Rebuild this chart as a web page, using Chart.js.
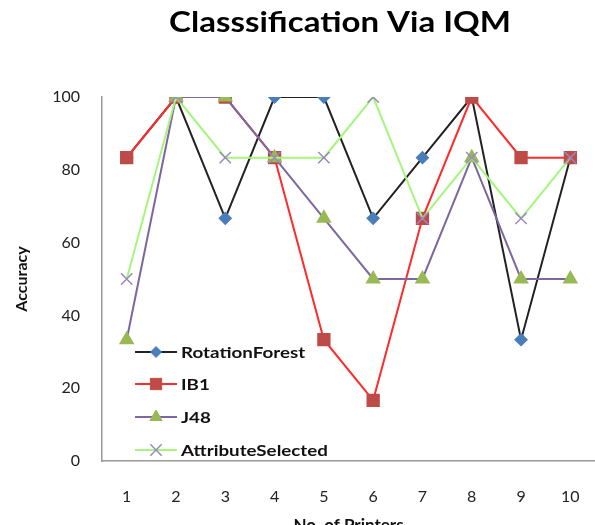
<!DOCTYPE html>
<html lang="en">
<head>
    <meta charset="UTF-8">
    <title>Classsification Via IQM</title>
    <script src="https://cdn.jsdelivr.net/npm/chart.js"></script>
    <style>
        html, body { margin: 0; padding: 0; background: #fff; overflow: hidden; }
        .chart-wrapper { width: 660px; height: 545px; }
    </style>
</head>
<body>
    <div class="chart-wrapper">
        <canvas id="chart" width="660" height="545"></canvas>
    </div>

    <script>
        // values
        const printers = ["1", "2", "3", "4", "5", "6", "7", "8", "9", "10"];
        const rotationForest = [83.33, 100, 66.67, 100, 100, 66.67, 83.33, 100, 33.33, 83.33];
        const ib1 = [83.33, 100, 100, 83.33, 33.33, 16.67, 66.67, 100, 83.33, 83.33];
        const j48 = [33.33, 100, 100, 83.33, 66.67, 50, 50, 83.33, 50, 50];
        const attributeSelected = [50, 100, 83.33, 83.33, 83.33, 100, 66.67, 83.33, 66.67, 83.33];
        const yTicks = [0, 20, 40, 60, 80, 100];

        const seriesNames = ["RotationForest", "IB1", "J48", "AttributeSelected"];
        const chartTitle = "Classsification Via IQM";

        const fontFamily = "Lato, 'Open Sans', sans-serif";

        // the source picture is a bit stretched sideways, so the drawn texts are too
        function stretchedText(ctx, text, x, y, sx, align) {
            ctx.save();
            ctx.translate(x, y);
            ctx.scale(sx, 1);
            ctx.textAlign = align;
            ctx.fillText(text, 0, 0);
            ctx.restore();
        }

        // title + legend inside the plot, lower left, like the excel one
        const excelBits = {
            id: 'excelBits',
            afterDraw(chart) {
                const ctx = chart.ctx;
                const area = chart.chartArea;

                ctx.save();
                ctx.fillStyle = '#000';
                ctx.font = "bold 28px " + fontFamily;
                ctx.textBaseline = 'middle';
                stretchedText(ctx, chartTitle, 340, 23, 1.18, 'center');
                ctx.restore();

                const x0 = area.left + 33;
                const rowsY = [352, 384, 417, 450];
                seriesNames.forEach((name, i) => {
                    const ds = chart.data.datasets.find(d => d.label === name);
                    const y = rowsY[i];
                    ctx.save();
                    ctx.strokeStyle = ds.borderColor;
                    ctx.lineWidth = ds.borderWidth;
                    ctx.beginPath();
                    ctx.moveTo(x0, y);
                    ctx.lineTo(x0 + 42, y);
                    ctx.stroke();
                    ctx.fillStyle = ds.pointBackgroundColor;
                    ctx.strokeStyle = ds.pointBorderColor;
                    ctx.lineWidth = ds.pointBorderWidth || 1;
                    Chart.helpers.drawPoint(ctx, {
                        pointStyle: ds.pointStyle,
                        radius: ds.pointRadius,
                        borderWidth: ds.pointBorderWidth || 1
                    }, x0 + 21, y);
                    ctx.restore();

                    ctx.save();
                    ctx.fillStyle = '#111';
                    ctx.font = "bold 15px " + fontFamily;
                    ctx.textBaseline = 'middle';
                    stretchedText(ctx, name, x0 + 46, y + 1, 1.25, 'left');
                    ctx.restore();
                });
            }
        };

        new Chart(document.getElementById('chart'), {
            type: 'line',
            data: {
                labels: printers,
                datasets: [
                    {
                        label: 'RotationForest',
                        data: rotationForest,
                        borderColor: '#222222',
                        borderWidth: 2,
                        pointStyle: 'rectRot',
                        pointRadius: 5.5,
                        pointBackgroundColor: '#4a7ebb',
                        pointBorderColor: '#4a7ebb',
                        order: 3
                    },
                    {
                        label: 'IB1',
                        data: ib1,
                        borderColor: '#ff2a2a',
                        borderWidth: 2,
                        pointStyle: 'rect',
                        pointRadius: 8,
                        pointBackgroundColor: '#be4b48',
                        pointBorderColor: '#be4b48',
                        order: 2
                    },
                    {
                        label: 'J48',
                        data: j48,
                        borderColor: '#7d67a0',
                        borderWidth: 2,
                        pointStyle: 'triangle',
                        pointRadius: 7,
                        pointBackgroundColor: '#98b954',
                        pointBorderColor: '#98b954',
                        order: 1
                    },
                    {
                        label: 'AttributeSelected',
                        data: attributeSelected,
                        borderColor: '#a6f57c',
                        borderWidth: 2,
                        pointStyle: 'crossRot',
                        pointRadius: 8,
                        pointBackgroundColor: '#9a86c0',
                        pointBorderColor: '#9a86c0',
                        pointBorderWidth: 1.5,
                        order: 0
                    }
                ]
            },
            options: {
                responsive: false,
                animation: false,
                devicePixelRatio: 1,
                layout: {
                    padding: { left: 12, right: 65, top: 97, bottom: 4 }
                },
                plugins: {
                    legend: { display: false },
                    tooltip: { enabled: false },
                    title: { display: false }
                },
                scales: {
                    x: {
                        offset: true,
                        grid: { display: false },
                        border: { display: true, color: '#9a9a9a', width: 1.5 },
                        ticks: {
                            color: '#222',
                            padding: 18,
                            font: { family: fontFamily, size: 16 }
                        },
                        title: {
                            display: true,
                            text: 'No. of Printers',
                            color: '#111',
                            font: { family: fontFamily, size: 17, weight: 'bold' },
                            padding: { top: 6, bottom: 5 }
                        },
                        afterFit(scale) {
                            scale.height = 80;
                        }
                    },
                    y: {
                        min: 0,
                        max: 100,
                        afterBuildTicks(axis) {
                            axis.ticks = yTicks.map(v => ({ value: v }));
                        },
                        grid: { display: false },
                        border: { display: true, color: '#9a9a9a', width: 1.5 },
                        ticks: {
                            color: '#222',
                            padding: 14,
                            font: { family: fontFamily, size: 16 }
                        },
                        title: {
                            display: true,
                            text: 'Accuracy',
                            color: '#111',
                            font: { family: fontFamily, size: 16, weight: 'bold' },
                            padding: { top: 0, bottom: 7 }
                        }
                    }
                },
                elements: {
                    line: { tension: 0 }
                }
            },
            plugins: [excelBits]
        });
    </script>
</body>
</html>
